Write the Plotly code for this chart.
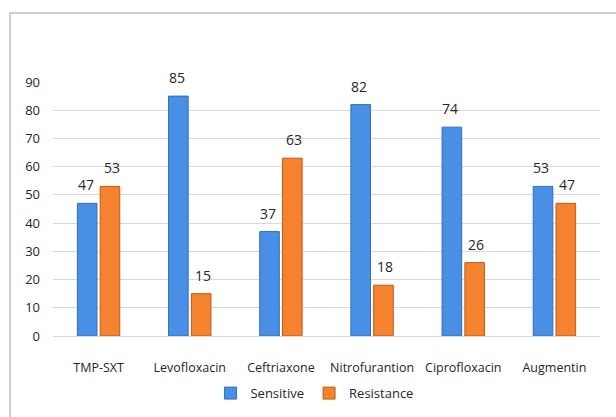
import plotly.graph_objects as go

categories = ["TMP-SXT", "Levofloxacin", "Ceftriaxone", "Nitrofurantion", "Ciprofloxacin", "Augmentin"]
sensitive = [47, 85, 37, 82, 74, 53]
resistance = [53, 15, 63, 18, 26, 47]
y_ticks = [0, 10, 20, 30, 40, 50, 60, 70, 80, 90]

FONT = "Open Sans"
TXT = "#262626"

fig = go.Figure()
fig.add_trace(go.Bar(name="Sensitive", x=categories, y=sensitive,
                     marker=dict(color="#4a8fe6", line=dict(color="#2e6fc0", width=1))))
fig.add_trace(go.Bar(name="Resistance", x=categories, y=resistance,
                     marker=dict(color="#f5822f", line=dict(color="#c55a11", width=1))))

for i, c in enumerate(categories):
    for val, dx in ((sensitive[i], -13), (resistance[i], 13)):
        fig.add_annotation(x=c, y=val, text=str(val), showarrow=False,
                           xshift=dx, yanchor="bottom", yshift=7,
                           font=dict(family=FONT, size=14, color=TXT))

fig.update_layout(
    width=616, height=417,
    margin=dict(l=53, r=16, t=82, b=81, autoexpand=False),
    paper_bgcolor="white", plot_bgcolor="white",
    barmode="group", bargap=0.5, bargroupgap=0.14,
    font=dict(family=FONT, size=12, color=TXT),
    showlegend=True,
    legend=dict(orientation="h", x=0.478, xanchor="center", y=-0.225, yanchor="middle",
                font=dict(family=FONT, size=13, color=TXT), itemwidth=30,
                traceorder="normal"),
    xaxis=dict(showgrid=False, showline=False, ticks="", ticklabelstandoff=22,
               automargin=False,
               tickfont=dict(family=FONT, size=12.5, color=TXT)),
    yaxis=dict(range=[0, 90], tickvals=y_ticks, showgrid=True, gridcolor="#d9d9d9",
               gridwidth=1, zeroline=True, zerolinecolor="#d9d9d9", zerolinewidth=1,
               showline=False, ticks="", ticklabelstandoff=12, automargin=False,
               tickfont=dict(family=FONT, size=13, color=TXT)),
    shapes=[dict(type="rect", xref="paper", yref="paper",
                 x0=-0.0786, x1=1.2, y0=-0.6, y1=1.2717,
                 line=dict(color="#bfbfbf", width=1.5), fillcolor="rgba(0,0,0,0)",
                 layer="below")],
)

fig.write_html("out.html")
